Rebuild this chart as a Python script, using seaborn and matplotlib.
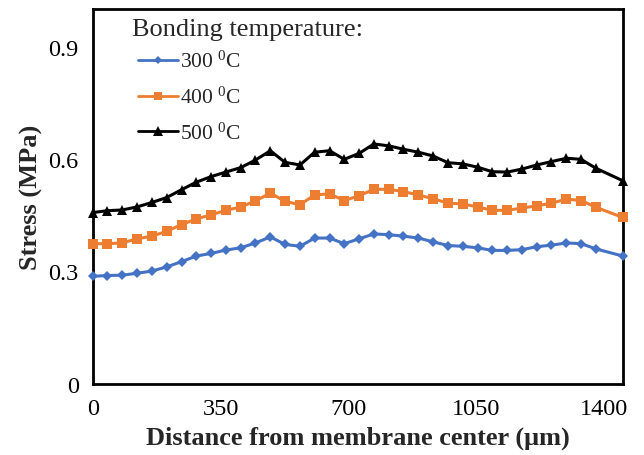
import matplotlib
matplotlib.use("Agg")
import matplotlib.pyplot as plt
import seaborn as sns
import pandas as pd
from matplotlib.lines import Line2D

distance = [0, 40, 81, 121, 162, 202, 243, 283, 324, 364, 405, 445, 486, 526, 567, 607, 648, 688,
            729, 769, 810, 850, 891, 931, 972, 1012, 1053, 1093, 1134, 1174, 1215, 1255, 1296, 1336, 1377, 1450]
stress_300 = [0.287, 0.289, 0.290, 0.295, 0.301, 0.312, 0.326, 0.341, 0.348, 0.357, 0.363, 0.376, 0.392, 0.372,
              0.367, 0.389, 0.389, 0.374, 0.387, 0.400, 0.398, 0.394, 0.389, 0.379, 0.369, 0.367, 0.363, 0.356,
              0.356, 0.358, 0.366, 0.370, 0.376, 0.374, 0.360, 0.341]
stress_400 = [0.374, 0.374, 0.376, 0.387, 0.394, 0.407, 0.425, 0.440, 0.451, 0.463, 0.472, 0.488, 0.509, 0.487,
              0.478, 0.504, 0.507, 0.489, 0.502, 0.519, 0.519, 0.513, 0.504, 0.494, 0.482, 0.480, 0.472, 0.463,
              0.463, 0.469, 0.475, 0.482, 0.493, 0.489, 0.471, 0.444]
stress_500 = [0.457, 0.462, 0.464, 0.472, 0.484, 0.497, 0.518, 0.538, 0.553, 0.565, 0.577, 0.597, 0.622, 0.591,
              0.584, 0.618, 0.622, 0.599, 0.615, 0.640, 0.635, 0.626, 0.618, 0.608, 0.590, 0.587, 0.578, 0.566,
              0.565, 0.573, 0.584, 0.593, 0.602, 0.599, 0.575, 0.542]
series_labels = ["300 $\\mathregular{^0}$C", "400 $\\mathregular{^0}$C", "500 $\\mathregular{^0}$C"]
legend_title = "Bonding temperature:"
x_ticks = [0, 350, 700, 1050, 1400]
y_ticks = [0, 0.3, 0.6, 0.9]
y_tick_labels = ["0", "0.3", "0.6", "0.9"]

sns.set_style("white")
plt.rcParams["font.family"] = ["Liberation Serif", "DejaVu Serif"]
plt.rcParams["mathtext.fontset"] = "custom"
plt.rcParams["mathtext.rm"] = "Liberation Serif"

rows = []
for lab, vals in zip(series_labels, [stress_300, stress_400, stress_500]):
    for d, v in zip(distance, vals):
        rows.append({"Distance": d, "Stress": v, "Series": lab})
df = pd.DataFrame(rows)

colors = {series_labels[0]: "#4472C4", series_labels[1]: "#ED7D31", series_labels[2]: "#000000"}
markers = {series_labels[0]: "D", series_labels[1]: "s", series_labels[2]: "^"}
msizes = {series_labels[0]: 5.5, series_labels[1]: 6.5, series_labels[2]: 7.5}

fig = plt.figure(figsize=(6.44, 4.56), dpi=100)
ax = fig.add_axes([0.144, 0.156, 0.823, 0.822])

for lab in series_labels:
    sub = df[df["Series"] == lab]
    sns.lineplot(data=sub, x="Distance", y="Stress", ax=ax, color=colors[lab], marker=markers[lab],
                 markersize=msizes[lab], markeredgewidth=0, linewidth=2.2, label=lab, legend=False,
                 clip_on=False, zorder=3)

ax.set_xlim(0, 1450)
ax.set_ylim(0, 1.0)
ax.set_xticks(x_ticks)
ax.set_xticklabels([str(t) for t in x_ticks])
ax.set_yticks(y_ticks)
ax.set_yticklabels(y_tick_labels)
ax.tick_params(axis="both", direction="in", length=6, width=1.2, labelsize=17.5, colors="black", pad=10)
for s in ax.spines.values():
    s.set_visible(True)
    s.set_color("black")
    s.set_linewidth(2)

ax.set_xlabel("Distance from membrane center (\u03bcm)", fontsize=19, fontweight="bold", labelpad=5)
ax.set_ylabel("Stress (MPa)", fontsize=19, fontweight="bold", labelpad=4)

ax.text(0.074, 0.947, legend_title, transform=ax.transAxes, fontsize=19, ha="left", va="center")
handles = [Line2D([], [], color=colors[l], marker=markers[l], markersize=msizes[l] - 1, markeredgewidth=0,
                  linewidth=2) for l in series_labels]
leg = ax.legend(handles, series_labels, loc="upper left", bbox_to_anchor=(0.085, 0.888),
                frameon=False, fontsize=15.5, handlelength=1.86, handletextpad=0.1,
                labelspacing=0.68, borderaxespad=0, borderpad=0)

fig.savefig("out.png", dpi=100)
